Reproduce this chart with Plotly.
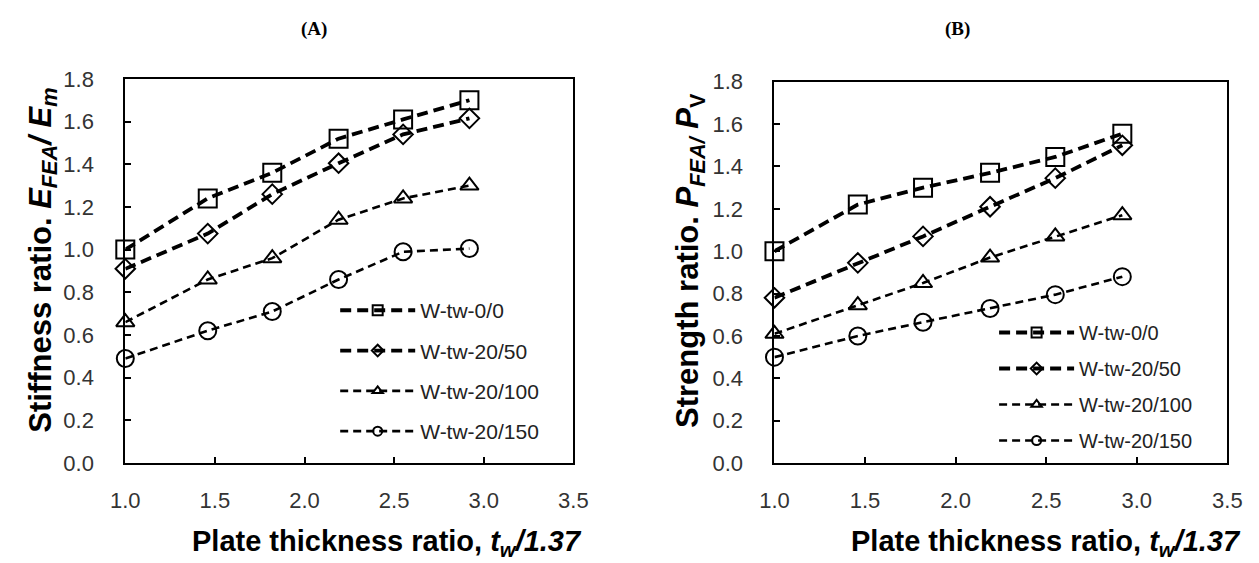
import plotly.graph_objects as go

# ---------------- data ----------------
x_ratio = [1.0, 1.46, 1.82, 2.19, 2.55, 2.92]
series_names = ["W-tw-0/0", "W-tw-20/50", "W-tw-20/100", "W-tw-20/150"]

stiff_0_0 = [1.00, 1.24, 1.36, 1.52, 1.61, 1.70]
stiff_20_50 = [0.91, 1.075, 1.26, 1.405, 1.54, 1.615]
stiff_20_100 = [0.66, 0.86, 0.96, 1.14, 1.24, 1.30]
stiff_20_150 = [0.49, 0.62, 0.71, 0.86, 0.99, 1.005]

str_0_0 = [1.00, 1.22, 1.30, 1.37, 1.445, 1.555]
str_20_50 = [0.78, 0.945, 1.07, 1.21, 1.345, 1.50]
str_20_100 = [0.61, 0.745, 0.85, 0.97, 1.07, 1.17]
str_20_150 = [0.50, 0.60, 0.665, 0.73, 0.795, 0.88]

x_ticks = [1.0, 1.5, 2.0, 2.5, 3.0, 3.5]
y_ticks = [0.0, 0.2, 0.4, 0.6, 0.8, 1.0, 1.2, 1.4, 1.6, 1.8]

# ---------------- styles ----------------
W, H = 1259, 563
symbols = ["square-open", "diamond-open", "triangle-up-open", "circle-open"]
msizes = [18, 15, 16, 17]
lwidths = [3.8, 3.8, 2.6, 2.6]
dashes = ["11px,6px", "11px,6px", "8px,5px", "8px,5px"]
leg_msizes = [10, 9, 9, 9]

FONT = "Liberation Sans, Arial, sans-serif"

fig = go.Figure()

panels = [
    ([stiff_0_0, stiff_20_50, stiff_20_100, stiff_20_150], "x", "y", "legend"),
    ([str_0_0, str_20_50, str_20_100, str_20_150], "x2", "y2", "legend2"),
]

for vals_list, xa, ya, leg in panels:
    for i, (name, vals) in enumerate(zip(series_names, vals_list)):
        fig.add_trace(go.Scatter(
            x=x_ratio, y=vals, xaxis=xa, yaxis=ya, mode="lines+markers",
            name=name, showlegend=False, cliponaxis=False,
            line=dict(color="black", width=lwidths[i], dash=dashes[i]),
            marker=dict(symbol=symbols[i], size=msizes[i], color="black",
                        line=dict(color="black", width=2)),
        ))
    for i, name in enumerate(series_names):
        fig.add_trace(go.Scatter(
            x=[None], y=[None], xaxis=xa, yaxis=ya, mode="lines+markers",
            name=name, showlegend=True, legend=leg, legendgroup=leg + str(i),
            line=dict(color="black", width=lwidths[i], dash=dashes[i]),
            marker=dict(symbol=symbols[i], size=leg_msizes[i], color="black",
                        line=dict(color="black", width=2)),
        ))


def px_x(p):
    return p / W


def px_y(p):
    return 1 - p / H


axis_common = dict(
    showline=True, linecolor="black", linewidth=2, mirror=True,
    ticks="inside", ticklen=6, tickwidth=2, tickcolor="black",
    showgrid=False, zeroline=False,
    tickfont=dict(family=FONT, size=22, color="#333333"),
    tickformat=".1f",
)

fig.update_layout(
    width=W, height=H,
    margin=dict(l=0, r=0, t=0, b=0),
    paper_bgcolor="white", plot_bgcolor="white",
    xaxis=dict(domain=[px_x(113), px_x(572)], range=[1.0, 3.5], tickvals=x_ticks,
               anchor="y", ticklabelstandoff=17, **axis_common),
    yaxis=dict(domain=[px_y(472), px_y(70)], range=[0.0, 1.8], tickvals=y_ticks,
               anchor="x", ticklabelstandoff=25, **axis_common),
    xaxis2=dict(domain=[px_x(778), px_x(1242)], range=[1.0, 3.5], tickvals=x_ticks,
                anchor="y2", ticklabelstandoff=17, **axis_common),
    yaxis2=dict(domain=[px_y(472), px_y(73)], range=[0.0, 1.8], tickvals=y_ticks,
                anchor="x2", ticklabelstandoff=25, **axis_common),
    legend=dict(x=px_x(328), y=px_y(291), xanchor="left", yanchor="top",
                bgcolor="rgba(0,0,0,0)", itemwidth=75, tracegroupgap=10,
                font=dict(family=FONT, size=21, color="#222222")),
    legend2=dict(x=px_x(1003), y=px_y(315), xanchor="left", yanchor="top",
                 bgcolor="rgba(0,0,0,0)", itemwidth=75, tracegroupgap=7,
                 font=dict(family=FONT, size=20, color="#222222")),
)

annotations = [
    dict(text="<b>(A)</b>", x=px_x(306), y=px_y(18), font=dict(family="Liberation Serif", size=19)),
    dict(text="<b>(B)</b>", x=px_x(965), y=px_y(18), font=dict(family="Liberation Serif", size=19)),
    dict(text="<b>Plate thickness ratio, <i>t</i><sub><i>w</i></sub><i>/1.37</i></b>",
         x=px_x(381), y=px_y(556), font=dict(family=FONT, size=29)),
    dict(text="<b>Plate thickness ratio, <i>t</i><sub><i>w</i></sub><i>/1.37</i></b>",
         x=px_x(1056), y=px_y(556), font=dict(family=FONT, size=29)),
    dict(text="<b>Stiffness ratio. <i>E</i><sub><i>FEA</i></sub><i>/ E</i><sub><i>m</i></sub></b>",
         x=px_x(29), y=px_y(260), textangle=-90, font=dict(family=FONT, size=31)),
    dict(text="<b>Strength ratio. <i>P</i><sub><i>FEA/</i></sub> <i>P</i><sub>V</sub></b>",
         x=px_x(692), y=px_y(260), textangle=-90, font=dict(family=FONT, size=31)),
]
for a in annotations:
    a.update(xref="paper", yref="paper", showarrow=False, xanchor="center", yanchor="middle")
    a["font"]["color"] = "black"
fig.update_layout(annotations=annotations)

fig.write_html("out.html")
